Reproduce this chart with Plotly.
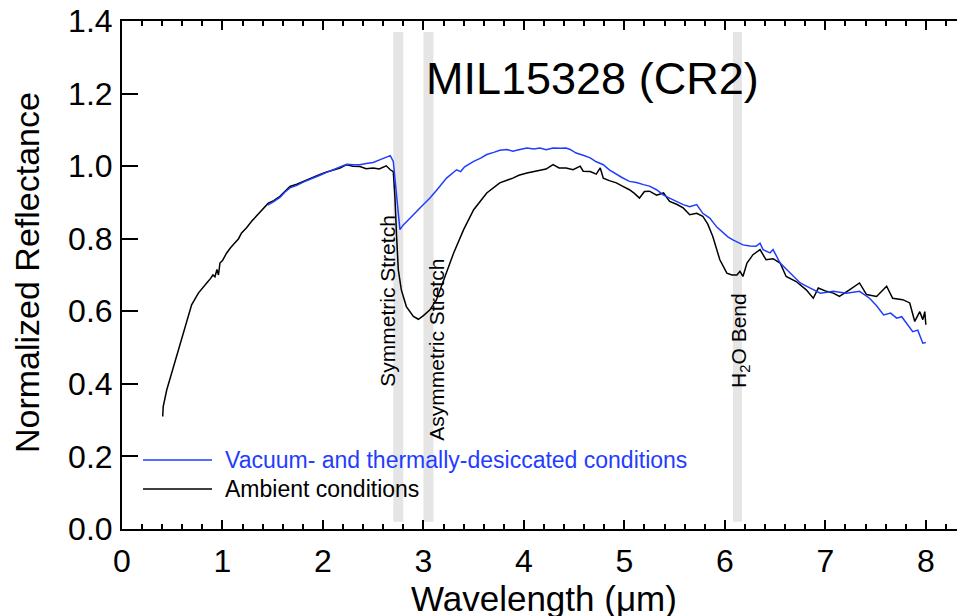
import plotly.graph_objects as go

# ---- data ----
ambient_wl = [
    0.405, 0.41, 0.445, 0.494, 0.544, 0.594, 0.644, 0.693, 0.76, 0.80,
    0.843, 0.88, 0.905, 0.925, 0.945, 0.96, 0.975, 1.0, 1.04, 1.08,
    1.124, 1.16, 1.19, 1.24, 1.29, 1.33, 1.373, 1.41, 1.456, 1.51,
    1.572, 1.62, 1.672, 1.74, 1.804, 1.88, 1.97, 2.03, 2.10, 2.17,
    2.236, 2.30, 2.368, 2.43, 2.50, 2.56, 2.63, 2.67, 2.70, 2.716,
    2.733, 2.75, 2.78, 2.83, 2.90, 2.95, 3.00, 3.065, 3.13, 3.20,
    3.30, 3.40, 3.50, 3.63, 3.76, 3.89, 3.95, 4.03, 4.10, 4.16,
    4.22, 4.29, 4.35, 4.42, 4.49, 4.56, 4.59, 4.66, 4.72, 4.76,
    4.79, 4.85, 4.92, 4.98, 5.05, 5.10, 5.15, 5.20, 5.25, 5.32,
    5.39, 5.45, 5.52, 5.585, 5.65, 5.72, 5.78, 5.83, 5.88, 5.95,
    6.02, 6.07, 6.12, 6.15, 6.18, 6.22, 6.28, 6.35, 6.41, 6.48,
    6.55, 6.61, 6.71, 6.81, 6.88, 6.93, 7.01, 7.08, 7.14, 7.24,
    7.34, 7.41, 7.51, 7.61, 7.67, 7.77, 7.84, 7.89, 7.94, 7.97,
    7.99, 8.0,
]
ambient_refl = [
    0.310, 0.337, 0.383, 0.430, 0.475, 0.530, 0.577, 0.618, 0.650, 0.665,
    0.678, 0.690, 0.700, 0.695, 0.715, 0.700, 0.733, 0.740, 0.760, 0.775,
    0.788, 0.800, 0.816, 0.830, 0.848, 0.860, 0.871, 0.885, 0.898, 0.905,
    0.917, 0.930, 0.944, 0.950, 0.958, 0.966, 0.977, 0.983, 0.990, 0.995,
    1.004, 1.000, 0.999, 0.993, 0.995, 0.992, 1.001, 0.990, 0.985, 0.917,
    0.806, 0.714, 0.659, 0.613, 0.586, 0.578, 0.588, 0.604, 0.632, 0.687,
    0.760, 0.825, 0.880, 0.926, 0.954, 0.967, 0.975, 0.981, 0.985, 0.990,
    0.992, 1.004, 0.995, 0.995, 0.990, 1.000, 0.986, 0.985, 0.978, 0.995,
    0.967, 0.960, 0.954, 0.945, 0.935, 0.925, 0.912, 0.930, 0.931, 0.920,
    0.926, 0.903, 0.895, 0.885, 0.866, 0.870, 0.862, 0.840, 0.806, 0.742,
    0.705, 0.700, 0.700, 0.710, 0.696, 0.733, 0.756, 0.770, 0.742, 0.745,
    0.733, 0.696, 0.682, 0.659, 0.636, 0.664, 0.655, 0.650, 0.641, 0.659,
    0.678, 0.646, 0.641, 0.669, 0.636, 0.632, 0.623, 0.572, 0.599, 0.577,
    0.599, 0.563,
]

vacuum_wl = [
    1.45, 1.51, 1.572, 1.62, 1.672, 1.74, 1.804, 1.88, 1.97, 2.03,
    2.10, 2.17, 2.236, 2.30, 2.368, 2.43, 2.50, 2.57, 2.63, 2.67,
    2.70, 2.733, 2.766, 2.80, 2.833, 2.90, 2.98, 3.065, 3.15, 3.23,
    3.33, 3.37, 3.41, 3.50, 3.57, 3.63, 3.70, 3.76, 3.83, 3.89,
    3.96, 4.03, 4.10, 4.16, 4.22, 4.29, 4.36, 4.42, 4.46, 4.52,
    4.59, 4.66, 4.72, 4.79, 4.85, 4.92, 4.98, 5.05, 5.12, 5.19,
    5.25, 5.32, 5.39, 5.45, 5.52, 5.585, 5.65, 5.72, 5.78, 5.85,
    5.92, 5.98, 6.03, 6.08, 6.13, 6.18, 6.25, 6.31, 6.35, 6.38,
    6.45, 6.48, 6.55, 6.65, 6.75, 6.85, 6.95, 7.08, 7.21, 7.34,
    7.44, 7.51, 7.58, 7.65, 7.71, 7.76, 7.81, 7.87, 7.92, 7.97,
    8.0,
]
vacuum_refl = [
    0.893, 0.902, 0.914, 0.928, 0.940, 0.947, 0.956, 0.964, 0.975, 0.982,
    0.990, 0.996, 1.005, 1.004, 1.004, 1.007, 1.010, 1.018, 1.025, 1.029,
    1.013, 0.917, 0.825, 0.838, 0.848, 0.866, 0.889, 0.912, 0.940, 0.967,
    0.990, 0.985, 0.998, 1.013, 1.022, 1.032, 1.038, 1.044, 1.046, 1.041,
    1.046, 1.050, 1.047, 1.050, 1.045, 1.050, 1.049, 1.050, 1.046, 1.036,
    1.030, 1.023, 1.012, 1.004, 0.990, 0.977, 0.968, 0.958, 0.955, 0.949,
    0.945, 0.935, 0.920, 0.912, 0.902, 0.894, 0.888, 0.894, 0.870, 0.857,
    0.832, 0.816, 0.805, 0.797, 0.790, 0.783, 0.780, 0.779, 0.788, 0.770,
    0.761, 0.770, 0.733, 0.705, 0.678, 0.664, 0.650, 0.655, 0.650, 0.655,
    0.636, 0.615, 0.590, 0.595, 0.581, 0.585, 0.567, 0.544, 0.548, 0.512,
    0.514,
]

band_labels = ["Symmetric Stretch", "Asymmetric Stretch", "H<sub>2</sub>O Bend"]
band_lo = [2.70, 3.00, 6.08]
band_hi = [2.80, 3.10, 6.17]
series_names = ["Vacuum- and thermally-desiccated conditions", "Ambient conditions"]
title_text = "MIL15328 (CR2)"
x_ticks = [0, 1, 2, 3, 4, 5, 6, 7, 8]
y_ticks = [0.0, 0.2, 0.4, 0.6, 0.8, 1.0, 1.2, 1.4]

BLUE = "#1f3dff"
FONT = "Liberation Sans, Arial, Helvetica, sans-serif"

fig = go.Figure()

# gray bands
for lo, hi in zip(band_lo, band_hi):
    fig.add_shape(type="rect", xref="x", yref="y", x0=lo, x1=hi, y0=0.02, y1=1.37,
                  fillcolor="#e5e5e5", line_width=0, layer="below")

fig.add_trace(go.Scatter(x=ambient_wl, y=ambient_refl, mode="lines",
                         line=dict(color="black", width=1.5), name=series_names[1],
                         showlegend=False))
fig.add_trace(go.Scatter(x=vacuum_wl, y=vacuum_refl, mode="lines",
                         line=dict(color=BLUE, width=1.5), name=series_names[0],
                         showlegend=False))

# band labels (rotated)
label_pos = [(2.647, 0.629), (3.134, 0.494), (6.15, 0.521)]
for txt, (lx, ly) in zip(band_labels, label_pos):
    fig.add_annotation(x=lx, y=ly, xref="x", yref="y", text=txt, textangle=-90,
                       showarrow=False, font=dict(family=FONT, size=21, color="black"))

# title
fig.add_annotation(x=0.5587, y=0.886, xref="paper", yref="paper", text=title_text,
                   showarrow=False, xanchor="center", yanchor="middle",
                   font=dict(family=FONT, size=45, color="black"))

# legend
leg_y = [0.1358, 0.0787]
leg_col = [BLUE, "black"]
for name, ly, col in zip(series_names, leg_y, leg_col):
    fig.add_shape(type="line", xref="paper", yref="paper", x0=0.0249, x1=0.1068,
                  y0=ly, y1=ly, line=dict(color=col, width=1.5))
    fig.add_annotation(x=0.1198, y=ly, xref="paper", yref="paper", text=name,
                       showarrow=False, xanchor="left", yanchor="middle",
                       font=dict(family=FONT, size=23, color=col))

# axis titles
fig.add_annotation(x=0.5, y=-0.136, xref="paper", yref="paper", text="Wavelength (\u03bcm)",
                   showarrow=False, xanchor="center", yanchor="middle",
                   font=dict(family=FONT, size=35, color="black"))
fig.add_annotation(x=-0.112, y=0.505, xref="paper", yref="paper", text="Normalized Reflectance",
                   showarrow=False, xanchor="center", yanchor="middle", textangle=-90,
                   font=dict(family=FONT, size=34, color="black"))

# page has an 8px body margin, so the figure is 957x608 placed at (8, 8)
fig.update_layout(
    width=957, height=608,
    margin=dict(l=114, r=0, t=13, b=87, autoexpand=False),
    paper_bgcolor="white", plot_bgcolor="white",
    showlegend=False,
    font=dict(family=FONT, color="black"),
    xaxis=dict(range=[0, 8.39], tickvals=x_ticks, ticks="inside", ticklen=9, tickwidth=2,
               tickcolor="black", showline=True, linecolor="black", linewidth=2,
               mirror="ticks", showgrid=False, zeroline=False, automargin=False,
               tickfont=dict(size=32, family=FONT), ticklabelstandoff=3,
               ticklabeloverflow="allow",
               minor=dict(dtick=0.2, ticks="inside", ticklen=5, tickwidth=2, tickcolor="black",
                          showgrid=False)),
    yaxis=dict(range=[0, 1.4], tickvals=y_ticks, ticktext=[f"{v:.1f}" for v in y_ticks],
               ticks="inside", ticklen=16, tickwidth=2, tickcolor="black",
               showline=True, linecolor="black", linewidth=2, mirror=False,
               showgrid=False, zeroline=False, ticklabeloverflow="allow", automargin=False,
               tickfont=dict(size=32, family=FONT), ticklabelstandoff=1),
    yaxis2=dict(range=[0, 1.4], tickvals=y_ticks, overlaying="y", side="right", anchor="x",
                ticks="inside", ticklen=16, tickwidth=2, tickcolor="black", automargin=False,
                showline=False, showticklabels=False, showgrid=False, zeroline=False),
)

fig.write_html("out.html")
